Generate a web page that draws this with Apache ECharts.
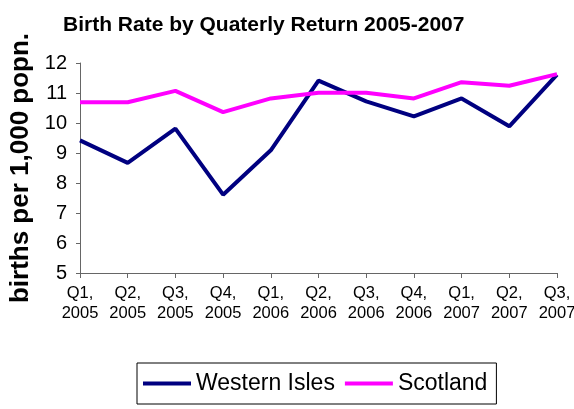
<!DOCTYPE html>
<html>
<head>
<meta charset="utf-8">
<script src="https://cdn.jsdelivr.net/npm/echarts@6/dist/echarts.min.js"></script>
<style>
  html, body { margin: 0; padding: 0; background: #fff; }
  #chart { width: 574px; height: 409px; }
</style>
</head>
<body>
<div id="chart"></div>
<script>
// quarterly returns
var quarters = [
  "Q1,\n2005", "Q2,\n2005", "Q3,\n2005", "Q4,\n2005",
  "Q1,\n2006", "Q2,\n2006", "Q3,\n2006", "Q4,\n2006",
  "Q1,\n2007", "Q2,\n2007", "Q3,\n2007"
];
var westernIsles = [9.42, 8.67, 9.81, 7.61, 9.09, 11.41, 10.72, 10.22, 10.82, 9.89, 11.61];
var scotland = [10.69, 10.69, 11.07, 10.36, 10.82, 11.01, 11.01, 10.82, 11.36, 11.24, 11.63];

var font = "Liberation Sans, Arial, sans-serif";
var chart = echarts.init(document.getElementById("chart"));

chart.setOption({
  animation: false,
  title: {
    text: "Birth Rate by Quaterly Return 2005-2007",
    left: 58,
    top: 10,
    textStyle: { fontFamily: font, fontSize: 21, fontWeight: "bold", color: "#000" }
  },
  grid: {
    left: 80,
    right: 17,
    top: 63,
    bottom: 136,
    outerBoundsMode: "none"
  },
  legend: {
    top: 363,
    left: 137,
    icon: "rect",
    itemWidth: 48,
    itemHeight: 4,
    itemGap: 10,
    padding: [9, 9, 9, 6],
    borderColor: "#000",
    borderWidth: 1,
    textStyle: { fontFamily: font, fontSize: 23, color: "#000" },
    data: ["Western Isles", "Scotland"]
  },
  xAxis: {
    type: "category",
    boundaryGap: false,
    data: quarters,
    axisLine: { lineStyle: { color: "#666" } },
    axisTick: { length: 5, lineStyle: { color: "#666" } },
    axisLabel: {
      fontFamily: font,
      fontSize: 16.5,
      lineHeight: 20,
      color: "#000",
      margin: 10,
      interval: 0
    }
  },
  yAxis: {
    type: "value",
    min: 5,
    max: 12,
    interval: 1,
    name: "births per 1,000 popn.",
    nameLocation: "middle",
    nameGap: 46,
    nameTextStyle: { fontFamily: font, fontSize: 26, fontWeight: "bold", color: "#000" },
    splitLine: { show: false },
    axisLine: { show: true, lineStyle: { color: "#666" } },
    axisTick: { show: true, length: 4, lineStyle: { color: "#666" } },
    axisLabel: { fontFamily: font, fontSize: 20, color: "#000", margin: 13 }
  },
  series: [
    {
      name: "Western Isles",
      type: "line",
      symbol: "none",
      data: westernIsles,
      itemStyle: { color: "#000080" },
      lineStyle: { color: "#000080", width: 4 }
    },
    {
      name: "Scotland",
      type: "line",
      symbol: "none",
      data: scotland,
      itemStyle: { color: "#ff00ff" },
      lineStyle: { color: "#ff00ff", width: 4 }
    }
  ]
});
</script>
</body>
</html>
